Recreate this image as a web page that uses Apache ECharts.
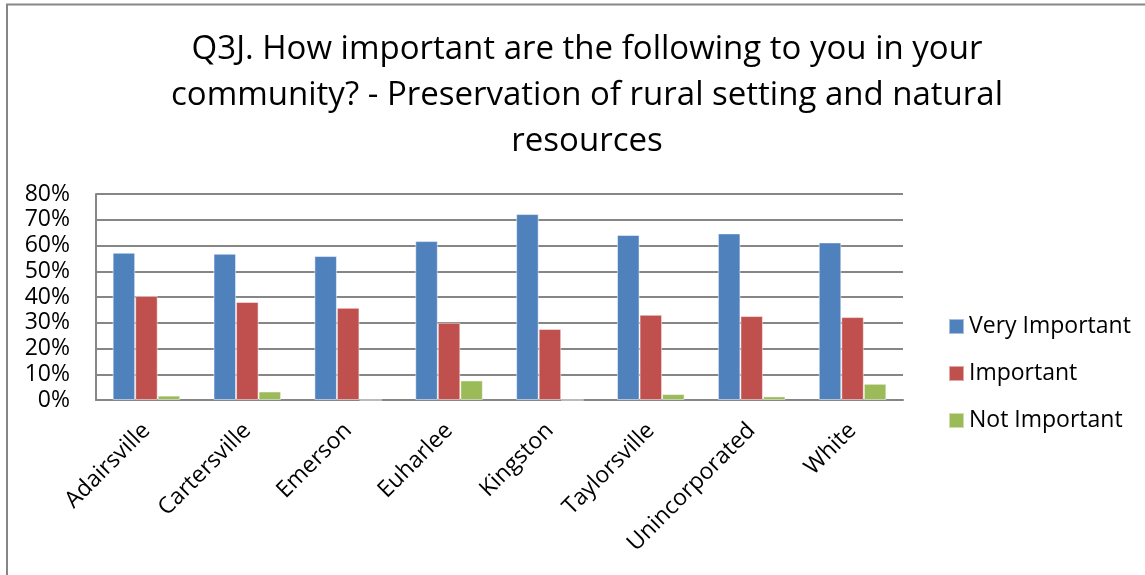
<!DOCTYPE html>
<html><head><meta charset="utf-8">
<script src="https://cdn.jsdelivr.net/npm/echarts@6/dist/echarts.min.js"></script>
<style>html,body{margin:0;padding:0;background:#fff}#c{width:1145px;height:575px}</style>
</head><body><div id="c"></div>
<script>
const categories = ['Adairsville','Cartersville','Emerson','Euharlee','Kingston','Taylorsville','Unincorporated','White'];
const veryImportant = [57.2, 56.8, 55.9, 61.7, 72.2, 64.1, 64.7, 61.2];
const important = [40.4, 38.1, 35.8, 30.0, 27.6, 33.1, 32.6, 32.2];
const notImportant = [1.7, 3.3, 0, 7.6, 0, 2.3, 1.4, 6.3];
const seriesNames = ['Very Important','Important','Not Important'];
const colors = ['#4F81BD','#C0504D','#9BBB59'];
const titleText = 'Q3J. How important are the following to you in your\ncommunity? - Preservation of rural setting and natural\nresources';
const FONT = '"Open Sans", "Noto Sans", sans-serif';

const chart = echarts.init(document.getElementById('c'));
const mk = (name, data, color) => ({
  name, type: 'bar', data, barGap: '0%', barCategoryGap: '33%',
  itemStyle: { color, borderColor: 'rgba(255,255,255,0.5)', borderWidth: 1 }
});
chart.setOption({
  animation: false,
  color: colors,
  title: {
    text: titleText, left: 582, top: 22, textAlign: 'center',
    textStyle: { fontFamily: FONT, fontSize: 33, fontWeight: 'normal', color: '#000', lineHeight: 46 }
  },
  graphic: [{
    type: 'polyline', shape: { points: [[7, 575], [7, 4.5], [1145, 4.5]] },
    style: { stroke: '#868686', lineWidth: 2, fill: null }
  }],
  legend: {
    orient: 'vertical', left: 943, top: 310, itemGap: 24, itemWidth: 15, itemHeight: 15,
    icon: 'rect', data: seriesNames,
    textStyle: { fontFamily: FONT, fontSize: 23, color: '#000' }
  },
  grid: { left: 96, right: 242, top: 194, bottom: 175, containLabel: false },
  xAxis: {
    type: 'category', data: categories,
    axisLine: { lineStyle: { color: '#868686', width: 2 } },
    axisTick: { show: false },
    axisLabel: { rotate: 45, fontFamily: FONT, fontSize: 23, color: '#000', margin: 27, interval: 0 }
  },
  yAxis: {
    type: 'value', min: 0, max: 80, interval: 10,
    axisLine: { show: true, lineStyle: { color: '#868686', width: 2 } },
    axisTick: { show: false },
    splitLine: { lineStyle: { color: '#868686', width: 2 } },
    axisLabel: { formatter: '{value}%', fontFamily: FONT, fontSize: 23, color: '#000', margin: 26 }
  },
  series: [
    mk(seriesNames[0], veryImportant, colors[0]),
    mk(seriesNames[1], important, colors[1]),
    mk(seriesNames[2], notImportant, colors[2])
  ]
});
</script></body></html>
